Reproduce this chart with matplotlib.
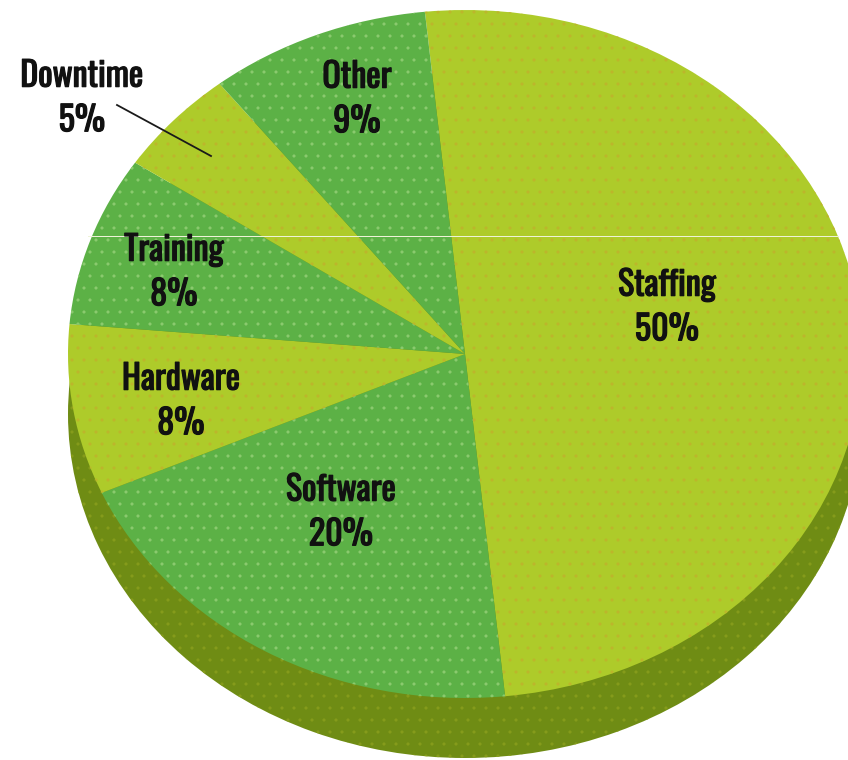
import matplotlib
matplotlib.use('Agg')
import matplotlib.pyplot as plt
import matplotlib.patheffects as pe

# Valores
categorias = ['Staffing', 'Software', 'Hardware', 'Training', 'Downtime', 'Other']
valores = [50, 20, 8, 8, 5, 9]
rotulos = ['Staffing\n50%', 'Software\n20%', 'Hardware\n8%', 'Training\n8%', 'Downtime\n5%', 'Other\n9%']

LARGURA, ALTURA = 848, 760
CX, CY = 465, 354
RX, RY = 397, 344
PROFUNDIDADE = 60

AMARELO = '#aecb2a'
VERDE = '#5cb146'
ESCURO = '#6f8c14'
cores = [AMARELO, VERDE, AMARELO, VERDE, AMARELO, VERDE]
pontos = ['#bdb62c', '#8ccb70', '#bdb62c', '#8ccb70', '#bdb62c', '#8ccb70']

pos_rotulos = [(667, 307), (341, 512), (181, 401), (174, 272), (82, 98), (357, 99)]

plt.rcParams['font.family'] = ['Oswald', 'Barlow Condensed', 'DejaVu Sans']
plt.rcParams['hatch.linewidth'] = 0.6

fig = plt.figure(figsize=(LARGURA / 72, ALTURA / 72), dpi=72)
ax = fig.add_axes([0, 0, 1, 1])

# Lateral do "3D": um disco escuro deslocado para baixo
lateral, _ = ax.pie([1], colors=[ESCURO], radius=1, center=(0, -PROFUNDIDADE / RY),
                    wedgeprops={'linewidth': 0})
lateral[0].set_hatch('.')
lateral[0].set_edgecolor('#869c1c')
lateral[0].set_linewidth(0)

# Face de cima
fatias, _ = ax.pie(valores, colors=cores, radius=1, center=(0, 0), startangle=95.8,
                   counterclock=False, wedgeprops={'linewidth': 0})
for fatia, cor_ponto in zip(fatias, pontos):
    fatia.set_hatch('.')
    fatia.set_edgecolor(cor_ponto)
    fatia.set_linewidth(0)

# Eixos em unidades do raio, para o disco virar elipse
ax.set_aspect('auto')
ax.set_xlim(-CX / RX, (LARGURA - CX) / RX)
ax.set_ylim((CY - ALTURA) / RY, CY / RY)
ax.axis('off')

# Rótulos (o contorno engrossa a fonte, que só tem peso regular)
for rotulo, (x, y) in zip(rotulos, pos_rotulos):
    fig.text(x / LARGURA, 1 - y / ALTURA, rotulo, ha='center', va='center',
             fontsize=34, color='#111111', linespacing=1.38,
             path_effects=[pe.withStroke(linewidth=1.2, foreground='#111111')])

# Linha guia do Downtime
fig.add_artist(plt.Line2D([117 / LARGURA, 211 / LARGURA], [1 - 105 / ALTURA, 1 - 156 / ALTURA],
                          color='#1a1a1a', linewidth=1.8))

# Risco branco horizontal da imagem original
fig.add_artist(plt.Line2D([88 / LARGURA, 838 / LARGURA], [1 - 236 / ALTURA, 1 - 236 / ALTURA],
                          color='#eef3d8', linewidth=1))

fig.savefig('out.png', dpi=72)
